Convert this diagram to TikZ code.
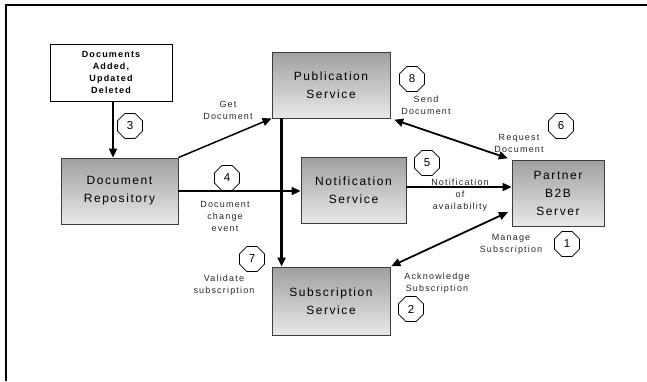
\documentclass[tikz,border=0pt]{standalone}
\usepackage{fontspec}
\usetikzlibrary{arrows.meta,shapes.geometric}
\newfontfamily\boxfont[LetterSpace=13]{Liberation Sans}
\newfontfamily\labfont[LetterSpace=13]{Liberation Sans}
\newfontfamily\numfont{Liberation Sans}
\definecolor{boxtop}{RGB}{160,160,160}
\definecolor{boxbot}{RGB}{232,232,232}
\definecolor{boxline}{RGB}{60,60,60}
\definecolor{labtext}{RGB}{40,40,40}
\begin{document}
\begin{tikzpicture}[x=1pt,y=-1pt,
  service/.style={draw=boxline,line width=0.9pt,top color=boxtop,bottom color=boxbot,
    align=center,inner sep=0pt,minimum height=66pt,
    font=\boxfont\fontsize{12}{18}\selectfont},
  eventbox/.style={draw=black,line width=0.9pt,fill=white,align=center,inner sep=0pt,
    font=\boxfont\bfseries\fontsize{9}{12}\selectfont},
  stepnum/.style={draw=black,line width=0.6pt,fill=white,regular polygon,regular polygon sides=8,
    minimum size=27pt,inner sep=0pt,font=\numfont\fontsize{11.5}{12}\selectfont},
  lab/.style={align=center,inner sep=0pt,text=labtext,font=\labfont\fontsize{9}{12}\selectfont},
  flow/.style={-{Triangle[length=9pt,width=8pt]},line width=2pt},
  both/.style={{Triangle[length=9pt,width=8pt]}-{Triangle[length=9pt,width=8pt]},line width=1.8pt},
]
\useasboundingbox (0,0) rectangle (647,381);
% frame edges
\draw[line width=1.5pt] (6,381) -- (6,5) -- (647,5);

% boxes
\node[eventbox,minimum width=122pt,minimum height=57pt] (docs) at (111,72.5)
  {Documents\\Added,\\Updated\\Deleted};
\node[service,minimum width=117pt] (repo) at (119.5,191) {Document\\Repository};
\node[service,minimum width=118pt] (pub) at (331,85) {Publication\\Service};
\node[service,minimum width=105pt] (notif) at (353.5,190) {Notification\\Service};
\node[service,minimum width=118pt,minimum height=68pt] (sub) at (331,301) {Subscription\\Service};
\node[service,minimum width=92pt] (partner) at (558,193) {Partner\\B2B\\Server};

% labels
\node[lab] (lget) at (228,110) {Get\\Document};
\node[lab] (lchange) at (225,216) {Document\\change\\event};
\node[lab] (lvalid) at (224,285) {Validate\\subscription};
\node[lab] (lsend) at (426,105.5) {Send\\Document};
\node[lab] (lreq) at (519,143) {Request\\Document};
\node[lab] (lnotif) at (460,195) {Notification\\of\\availability};
\node[lab] (lmanage) at (511,244) {Manage\\Subscription};
\node[lab] (lack) at (437,283) {Acknowledge\\Subscription};

% connectors
\draw[flow] (docs.south -| 113,0) -- (repo.north -| 113,0);
\draw[flow,line width=1.5pt] (repo.north east) -- (pub.south west);
\draw[flow] (repo.east) -- (repo.east -| notif.west);
\draw[flow,line width=3pt] ([xshift=10pt]pub.south west) -- ([xshift=10pt]sub.north west);
\draw[flow] ([yshift=3pt]notif.east) -- ([yshift=3pt]notif.east -| partner.west);
\draw[both,shorten <=4pt,shorten >=4pt] (partner.north west) -- (pub.south east);
\coordinate (ackend) at ([yshift=16pt]partner.south west);
\draw[both,shorten <=4pt,shorten >=1pt] (ackend) -- (sub.north east);

% step numbers
\node[stepnum] (n1) at (567,244) {1};
\node[stepnum] (n2) at (411,309) {2};
\node[stepnum] (n3) at (130,126) {3};
\node[stepnum] (n4) at (227,178) {4};
\node[stepnum] (n5) at (427,163) {5};
\node[stepnum] (n6) at (561,126) {6};
\node[stepnum] (n7) at (252,259) {7};
\node[stepnum] (n8) at (412,79) {8};
\end{tikzpicture}
\end{document}
